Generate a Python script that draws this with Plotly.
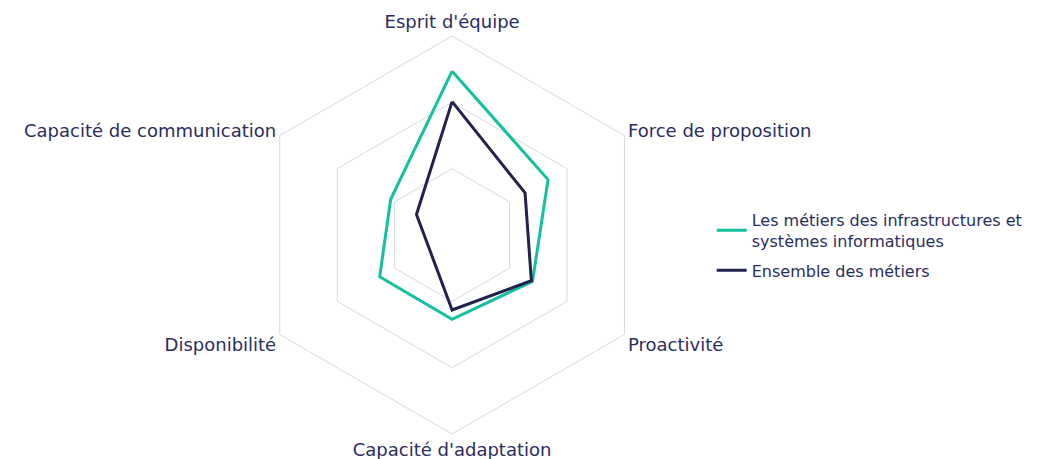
import plotly.graph_objects as go

categories = ["Esprit d'équipe", "Force de proposition", "Proactivité",
              "Capacité d'adaptation", "Disponibilité", "Capacité de communication"]
infra_values = [24.7, 16.7, 14.0, 12.7, 12.6, 10.7]
ensemble_values = [20.1, 12.7, 13.8, 11.3, 4.0, 6.2]
series_names = ["Les métiers des infrastructures et<br>systèmes informatiques",
                "Ensemble des métiers"]

text_color = "#2b2d5e"
grid_color = "#d9d9d9"

fig = go.Figure()
fig.add_trace(go.Scatterpolar(
    r=infra_values + infra_values[:1],
    theta=categories + categories[:1],
    mode="lines", name=series_names[0], legendgroup="infra",
    line=dict(color="#14c19f", width=3),
))
fig.add_trace(go.Scatterpolar(
    r=ensemble_values + ensemble_values[:1],
    theta=categories + categories[:1],
    mode="lines", name=series_names[1], legendgroup="ensemble",
    line=dict(color="#22224f", width=3),
))

fig.update_layout(
    width=1041, height=459,
    paper_bgcolor="white", plot_bgcolor="white",
    margin=dict(l=0, r=0, t=0, b=0, autoexpand=False),
    font=dict(family="DejaVu Sans", size=18, color=text_color),
    polar=dict(
        domain=dict(x=[0.2353, 0.6179], y=[0.0719, 0.939]),
        bgcolor="white",
        gridshape="linear",
        radialaxis=dict(range=[0, 30], dtick=10, showticklabels=False, ticks="",
                        showline=False, gridcolor=grid_color, gridwidth=1),
        angularaxis=dict(direction="clockwise", rotation=90, showgrid=False,
                         linecolor=grid_color, linewidth=1, ticks="",
                         tickfont=dict(size=18, color=text_color)),
    ),
    legend=dict(x=0.676, y=0.5755, xanchor="left", yanchor="top",
                font=dict(size=16, color=text_color), bgcolor="rgba(0,0,0,0)",
                tracegroupgap=6),
    showlegend=True,
)

fig.write_html("out.html")
